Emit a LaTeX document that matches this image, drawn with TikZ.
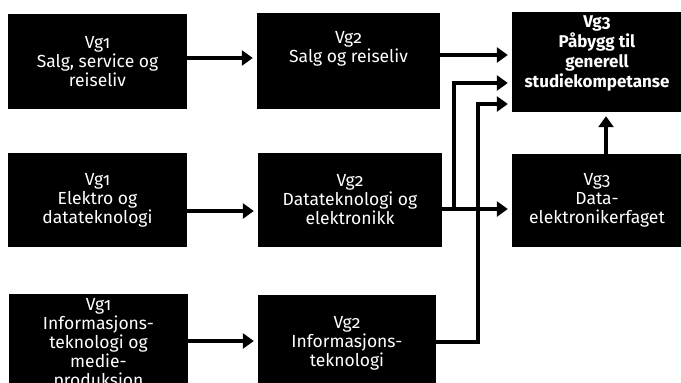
\documentclass[tikz,border=0pt]{standalone}
\usepackage{fontspec}
\setmainfont{Fira Sans}[Numbers=OldStyle]
\usetikzlibrary{arrows.meta,calc}
\tikzset{
  box/.style={fill=black, text=white, draw=none, align=center, inner sep=0pt,
    font=\fontsize{17.5}{19}\selectfont},
  boldbox/.style={box, font=\fontsize{17}{20}\selectfont\bfseries},
  arr/.style={line width=3.5pt, -{Triangle[length=11pt,width=15pt]}, shorten >=4pt, line join=miter},
}
\begin{document}
\begin{tikzpicture}[x=1pt,y=-1pt]
\useasboundingbox (0,0) rectangle (681,383);
\clip (0,0) rectangle (681,383);
% row A
\node[box, minimum width=179pt, minimum height=95pt] (a1) at (97.5,61.5) {Vg1\\Salg, service og\\reiseliv};
\node[box, minimum width=183pt, minimum height=96pt] (a2) at (348.5,61) {Vg2\\Salg og reiseliv\\[9pt]\mbox{}};
\node[boldbox, minimum width=170pt, minimum height=100pt] (a3) at (597,62) {Vg3\\Påbygg til\\generell\\studiekompetanse\\\mbox{}};
% row B
\node[box, minimum width=179pt, minimum height=94pt] (b1) at (97.5,200) {Vg1\\Elektro og\\datateknologi};
\node[box, minimum width=184pt, minimum height=94pt] (b2) at (350,200) {Vg2\\Datateknologi og\\elektronikk};
\node[box, minimum width=170pt, minimum height=93pt] (b3) at (597,200.5) {Vg3\\Data-\\elektronikerfaget};
% row C
\node[box, minimum width=179pt, minimum height=100pt] (c1) at (98.5,344) {Vg1\\Informasjons-\\teknologi og\\medie-\\produksjon};
\node[box, minimum width=178pt, minimum height=96pt] (c2) at (347,343) {Vg2\\Informasjons-\\teknologi};
% connectors
\draw[arr] (a1.east |- 0,58) -- (a2.west |- 0,58);
\draw[arr] (a2.east |- 0,55) -- (a3.west |- 0,55);
\draw[arr] (b1.east |- 0,211) -- (b2.west |- 0,211);
\draw[arr] (b2.east |- 0,209) -- (b3.west |- 0,209);
\coordinate (j1) at (454,209);
\draw[arr] (j1) -- (454,83) -- (a3.west |- 0,83);
\draw[arr] (c1.east |- 0,341) -- (c2.west |- 0,341);
\draw[arr] (c2.east |- 0,342) -- (478,342) -- (478,104) -- (a3.west |- 0,104);
\draw[arr] (b3.north -| 606,0) -- (a3.south -| 606,0);
\end{tikzpicture}
\end{document}
